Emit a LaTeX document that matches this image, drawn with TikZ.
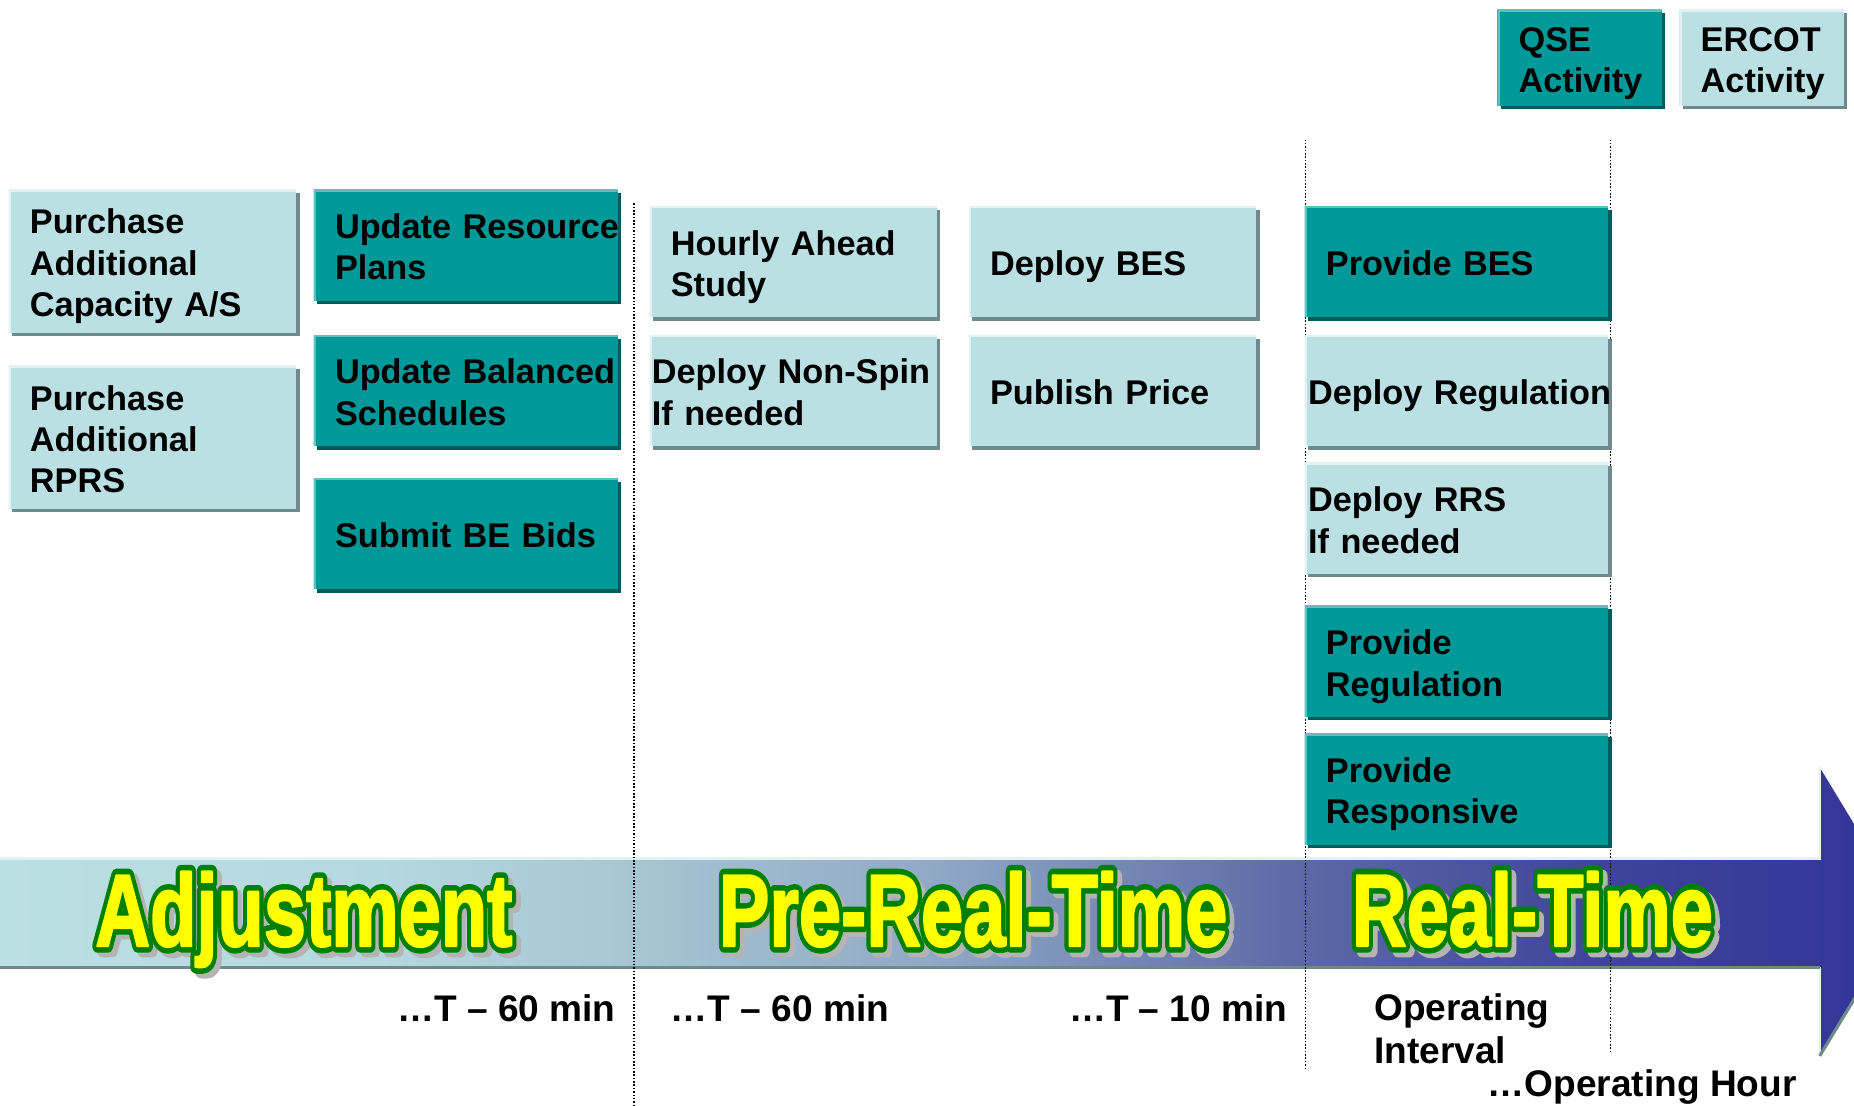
\documentclass[tikz,border=0pt]{standalone}
\usepackage{fontspec}
\usepackage{graphicx}
\usetikzlibrary{shadows}
\setmainfont{Liberation Sans}

% the whole chart sits on a 1568 x 935 grid, y running downwards
\newcommand\px{0.6pt}
\newcommand\boxFont{\fontsize{17.4pt}{21pt}\selectfont\bfseries\hyphenpenalty=10000\exhyphenpenalty=10000}
\newcommand\markFont{\fontsize{18.8pt}{21.6pt}\selectfont\bfseries}
\newcommand\phaseFont{\fontsize{52pt}{52pt}\selectfont\bfseries}
\newcommand\phaseSqueeze{0.74}
% pushes box texts a little lower than plain centring would,
% and gives every last line the same depth
\newcommand\topStrut{\rule{0pt}{18pt}}
\newcommand\lastStrut{\rule[-3.7pt]{0pt}{0pt}}

\definecolor{qseFill}{HTML}{009999}
\definecolor{qseShadow}{HTML}{005C5C}
\definecolor{qseEdge}{HTML}{5EC0C0}
\definecolor{ercotFill}{HTML}{BBE0E3}
\definecolor{ercotShadow}{HTML}{6F8A8C}
\definecolor{ercotEdge}{HTML}{E2F2F3}
\definecolor{phaseYellow}{HTML}{FFFF00}
\definecolor{phaseGreen}{HTML}{008000}
\definecolor{phaseGrey}{HTML}{B4B4B4}
\definecolor{timeA}{HTML}{BBE0E3}
\definecolor{timeB}{HTML}{B4D8DF}
\definecolor{timeC}{HTML}{A6C6D3}
\definecolor{timeD}{HTML}{8FA7C4}
\definecolor{timeE}{HTML}{5C68A6}
\definecolor{timeF}{HTML}{3F4399}
\definecolor{timeG}{HTML}{333399}

% light blue on the left, deep blue at the arrow head
\pgfdeclarehorizontalshading{timeline}{100bp}{%
  color(0bp)=(timeA); color(25bp)=(timeA); color(35bp)=(timeB);
  color(41.6bp)=(timeC); color(49.8bp)=(timeD); color(59.2bp)=(timeE);
  color(67.2bp)=(timeF); color(75bp)=(timeG); color(100bp)=(timeG)}

\tikzset{
  activity/.style={anchor=north west, minimum height=56.4pt, inner ysep=0pt,
    align=left, font=\boxFont, execute at begin node=\topStrut,
    execute at end node=\lastStrut},
  qse/.style={activity, fill=qseFill,
    drop shadow={shadow xshift=1.8pt, shadow yshift=-1.8pt, fill=qseShadow, opacity=1},
    path picture={\draw[qseEdge, line width=2.4pt]
      (path picture bounding box.south west) |- (path picture bounding box.north east);}},
  ercot/.style={activity, fill=ercotFill,
    drop shadow={shadow xshift=1.8pt, shadow yshift=-1.8pt, fill=ercotShadow, opacity=1},
    path picture={\draw[ercotEdge, line width=2.4pt]
      (path picture bounding box.south west) |- (path picture bounding box.north east);}},
  wide/.style={text width=132.6pt, inner xsep=10.8pt},
  wideTight/.style={text width=150.6pt, inner xsep=1.8pt},
  narrow/.style={text width=124.2pt, inner xsep=10.8pt},
  narrowTight/.style={text width=143.4pt, inner xsep=1.2pt},
  tall/.style={minimum height=72.6pt},
  legendBox/.style={text width=61.8pt, inner xsep=10.8pt, minimum height=48.6pt},
  divider/.style={draw=black, line width=0.8pt, dash pattern=on 0.8pt off 0.9pt},
  timeLabel/.style={font=\markFont, inner sep=0pt, align=left},
  phaseLabel/.style={anchor=base, inner sep=0pt, font=\phaseFont, text=phaseYellow},
  phaseRim/.style={phaseLabel, text=phaseGreen},
  phaseDrop/.style={phaseLabel, text=phaseGrey},
}

% squeezed phase names, stroked as well as filled (#1 = stroke width)
\newcommand\phaseStroke[2]{\scalebox{\phaseSqueeze}[1]{%
  \special{pdf:literal direct 1 j #1 w 2 Tr}#2\special{pdf:literal direct 0 Tr}}}

\begin{document}
\begin{tikzpicture}[x=\px, y={(0,-\px)}]

    \fill[white] (0,0) rectangle (1568,935);
    \useasboundingbox (0,0) rectangle (1568,935);

    % the time arrow, its point runs off the right edge
    \begin{scope}
        \clip (0,0) rectangle (1568,935);
        \shade[shading=timeline] (0,726) -- (1539,726) -- (1539,649) -- (1613,771)
            -- (1539,893) -- (1539,818) -- (0,818) -- cycle;
        \draw[ercotEdge, line width=1.2pt] (0,726) -- (1539,726) -- (1539,649);
        \draw[ercotEdge, line width=1.2pt] (1539,818) -- (1539,893);
        \draw[ercotShadow, line width=1.6pt] (0,818) -- (1539,818);
        \draw[ercotShadow, line width=1.6pt] (1539,893) -- (1613,771);
    \end{scope}

    % phase borders
    \draw[divider] (536,172) -- (536,935);
    \draw[divider] (1104,118) -- (1104,905);
    \draw[divider] (1362,118) -- (1362,890);

    % legend
    \node[qse, legendBox] (qseKey) at (1266,8) {QSE\\Activity};
    \node[ercot, legendBox] (ercotKey) at (1420,8) {ERCOT\\Activity};

    % adjustment period
    \node[ercot, narrow, tall] (buyAS) at (7,160) {Purchase\\Additional\\Capacity A/S};
    \node[ercot, narrow, tall] (buyRPRS) at (7,309) {Purchase\\Additional\\RPRS};
    \node[qse, wide] (updPlans) at (265,160) {Update~Resource\\Plans};
    \node[qse, wide] (updSched) at (265,283) {Update~Balanced\\Schedules};
    \node[qse, wide] (beBids) at (265,404) {Submit~BE~Bids};

    % pre-real-time
    \node[ercot, narrow] (haStudy) at (549,174) {Hourly Ahead\\Study};
    \node[ercot, narrowTight] (nonSpin) at (549,283) {Deploy~Non-Spin\\If needed};
    \node[ercot, narrow] (deployBES) at (819,174) {Deploy BES};
    \node[ercot, narrow] (pubPrice) at (819,283) {Publish Price};

    % real-time
    \node[qse, wide] (provBES) at (1103,174) {Provide BES};
    \node[ercot, wideTight] (deployReg) at (1103,283) {Deploy~Regulation};
    \node[ercot, wideTight] (deployRRS) at (1103,391) {Deploy RRS\\If needed};
    \node[qse, wide] (provReg) at (1103,512) {Provide\\Regulation};
    \node[qse, wide] (provResp) at (1103,620) {Provide\\Responsive};

    % phase names on the arrow: grey drop, green rim, yellow face
    \node[phaseDrop] (adjDrop) at (261,804) {\phaseStroke{6.8}{Adjustment}};
    \node[phaseDrop] (preDrop) at (827,804) {\phaseStroke{6.8}{Pre-Real-Time}};
    \node[phaseDrop] (rtDrop) at (1300,804) {\phaseStroke{6.8}{Real-Time}};
    \node[phaseRim] (adjRim) at (257,800) {\phaseStroke{6.8}{Adjustment}};
    \node[phaseRim] (preRim) at (823,800) {\phaseStroke{6.8}{Pre-Real-Time}};
    \node[phaseRim] (rtRim) at (1296,800) {\phaseStroke{6.8}{Real-Time}};
    \node[phaseLabel] (adjName) at (257,800) {\phaseStroke{1.2}{Adjustment}};
    \node[phaseLabel] (preName) at (823,800) {\phaseStroke{1.2}{Pre-Real-Time}};
    \node[phaseLabel] (rtName) at (1296,800) {\phaseStroke{1.2}{Real-Time}};

    % time marks under the arrow
    \node[timeLabel, anchor=base east] (adjEnd) at (521,864) {…T -- 60 min};
    \node[timeLabel, anchor=base west] (preStart) at (567,864) {…T -- 60 min};
    \node[timeLabel, anchor=base east] (preEnd) at (1089,864) {…T -- 10 min};
    \node[timeLabel, anchor=north west] (opInterval) at (1162,840) {Operating\\Interval};
    \node[timeLabel, anchor=base west] (opHour) at (1258,927) {…Operating Hour};

\end{tikzpicture}
\end{document}
